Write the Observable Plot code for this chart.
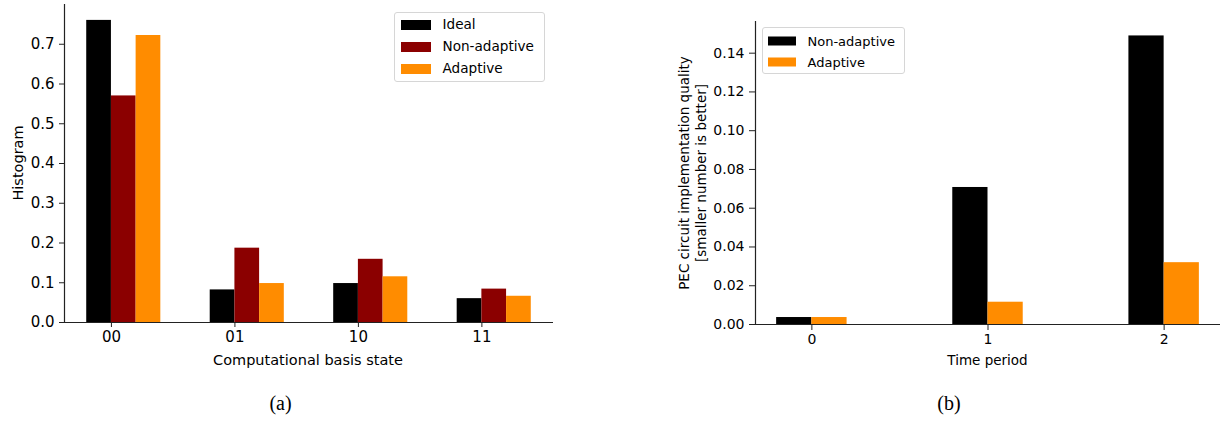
<!DOCTYPE html>
<html>
<head>
<meta charset="utf-8">
<script src="https://cdn.jsdelivr.net/npm/d3@7"></script>
<script src="https://cdn.jsdelivr.net/npm/@observablehq/plot@0.6"></script>
<style>
  html, body { margin: 0; padding: 0; background: #fff; }
  #root { position: relative; width: 1225px; height: 422px; overflow: hidden; font-family: "DejaVu Sans", sans-serif; color: #000; }
  .abs { position: absolute; }
  .lbl { position: absolute; transform: translate(-50%, -50%); white-space: nowrap; line-height: 1; }
  .rot { position: absolute; transform: translate(-50%, -50%) rotate(-90deg); white-space: nowrap; line-height: 1; }
  .legend { position: absolute; border: 1px solid #d6d6d6; border-radius: 3px; background: rgba(255,255,255,0.8); box-sizing: border-box; }
  .row { position: absolute; left: 0; right: 0; height: 0; }
  .sw { position: absolute; transform: translateY(-50%); }
  .tx { position: absolute; transform: translateY(-50%); white-space: nowrap; line-height: 1; }
  .cap { position: absolute; transform: translate(-50%, -50%); font-family: "Liberation Serif", serif; font-size: 20px; line-height: 1; }
</style>
</head>
<body>
<div id="root"></div>
<script>
// ---------- data: panel (a) ----------
const leftCategories = ["00", "01", "10", "11"];
const leftSeries = ["Ideal", "Non-adaptive", "Adaptive"];
const leftIdeal = [0.760, 0.082, 0.098, 0.060];
const leftNonAdaptive = [0.570, 0.187, 0.159, 0.084];
const leftAdaptive = [0.722, 0.098, 0.115, 0.066];
const leftColors = ["#000000", "#8b0000", "#ff8c00"];
const leftYTicks = [0, 0.1, 0.2, 0.3, 0.4, 0.5, 0.6, 0.7];
const leftXLabel = "Computational basis state";
const leftYLabel = "Histogram";

// ---------- data: panel (b) ----------
const rightCategories = ["0", "1", "2"];
const rightSeries = ["Non-adaptive", "Adaptive"];
const rightNonAdaptive = [0.0036, 0.0707, 0.1489];
const rightAdaptive = [0.0036, 0.0115, 0.0319];
const rightColors = ["#000000", "#ff8c00"];
const rightYTicks = [0, 0.02, 0.04, 0.06, 0.08, 0.10, 0.12, 0.14];
const rightXLabel = "Time period";
const rightYLabel1 = "PEC circuit implementation quality";
const rightYLabel2 = "[smaller number is better]";

const barWidth = 0.2;

function buildRows(categories, seriesNames, seriesValues) {
  const rows = [];
  categories.forEach((c, i) => {
    seriesNames.forEach((s, j) => {
      const x1 = i + (j - 1) * barWidth;
      rows.push({cat: c, series: s, x1, x2: x1 + barWidth, y: seriesValues[j][i]});
    });
  });
  return rows;
}

const root = document.getElementById("root");

function addPanel(opts) {
  const rows = buildRows(opts.categories, opts.series, opts.values);
  const xs = rows.flatMap(d => [d.x1, d.x2]);
  const lo = d3.min(xs), hi = d3.max(xs), m = (hi - lo) * 0.05;
  const xDomain = [lo - m, hi + m];
  const yMax = d3.max(rows, d => d.y) * 1.05;
  const yDomain = [0, opts.yTop ?? yMax];
  const chart = Plot.plot({
    width: opts.width,
    height: opts.height,
    marginLeft: opts.ml, marginRight: opts.mr, marginTop: opts.mt, marginBottom: opts.mb,
    style: {fontFamily: "DejaVu Sans", fontSize: opts.fs + "px", color: "#000", background: "transparent", overflow: "visible"},
    x: {domain: xDomain, axis: null},
    y: {domain: yDomain, axis: null},
    color: {domain: opts.series, range: opts.colors},
    marks: [
      Plot.rectY(rows, {x1: "x1", x2: "x2", y: "y", fill: "series"}),
      Plot.ruleX([xDomain[0]], {y1: yDomain[0], y2: yDomain[1], stroke: "#222", strokeWidth: 1.2}),
      Plot.ruleY([0], {x1: xDomain[0], x2: xDomain[1], stroke: "#222", strokeWidth: 1.2}),
      Plot.axisY({ticks: opts.yTicks, tickFormat: opts.yFmt, tickSize: opts.ts, tickPadding: 5, label: null, stroke: "#222"}),
      Plot.axisX({ticks: opts.categories.map((c, i) => i), tickFormat: i => opts.categories[i], tickSize: opts.ts, tickPadding: 4, label: null, stroke: "#222"})
    ]
  });
  chart.classList.add("abs");
  chart.style.left = opts.left + "px";
  chart.style.top = opts.top + "px";
  root.appendChild(chart);
}

addPanel({
  categories: leftCategories, series: leftSeries, values: [leftIdeal, leftNonAdaptive, leftAdaptive],
  colors: leftColors, yTicks: leftYTicks, yFmt: d => d.toFixed(1), yTop: 0.80,
  width: 600, height: 345, ml: 64, mr: 47, mt: 4, mb: 23, left: 0, top: 0, fs: 15, ts: 5
});

addPanel({
  categories: rightCategories, series: rightSeries, values: [rightNonAdaptive, rightAdaptive],
  colors: rightColors, yTicks: rightYTicks, yFmt: d => d.toFixed(2),
  width: 525, height: 345, ml: 55, mr: 5, mt: 21, mb: 21, left: 700, top: 0, fs: 14, ts: 6
});

function addText(cls, text, x, y, size) {
  const d = document.createElement("div");
  d.className = cls;
  d.textContent = text;
  d.style.left = x + "px";
  d.style.top = y + "px";
  if (size) d.style.fontSize = size + "px";
  root.appendChild(d);
}

addText("lbl", leftXLabel, 308, 360, 14.5);
addText("rot", leftYLabel, 17.5, 163, 14.5);
addText("lbl", rightXLabel, 987.5, 360.5, 13.5);
addText("rot", rightYLabel1, 684.5, 172.5, 13.5);
addText("rot", rightYLabel2, 701.5, 172.5, 13.5);
addText("cap", "(a)", 280.5, 403);
addText("cap", "(b)", 949, 403);

function addLegend(names, colors, box) {
  const lg = document.createElement("div");
  lg.className = "legend";
  Object.assign(lg.style, {left: box.x + "px", top: box.y + "px", width: box.w + "px", height: box.h + "px"});
  names.forEach((n, i) => {
    const row = document.createElement("div");
    row.className = "row";
    row.style.top = box.rows[i] + "px";
    const sw = document.createElement("div");
    sw.className = "sw";
    Object.assign(sw.style, {left: box.sx + "px", width: box.sw + "px", height: box.sh + "px", background: colors[i]});
    const tx = document.createElement("div");
    tx.className = "tx";
    tx.textContent = n;
    Object.assign(tx.style, {left: box.tx + "px", fontSize: box.fs + "px"});
    row.appendChild(sw); row.appendChild(tx);
    lg.appendChild(row);
  });
  root.appendChild(lg);
}

addLegend(leftSeries, leftColors, {x: 394, y: 12, w: 151, h: 70, rows: [12, 33.5, 55.5], sx: 6, sw: 30, sh: 10, tx: 47.5, fs: 13.6});
addLegend(rightSeries, rightColors, {x: 762, y: 27, w: 143, h: 47, rows: [13, 34], sx: 5, sw: 28, sh: 9, tx: 44.5, fs: 13});
</script>
</body>
</html>
